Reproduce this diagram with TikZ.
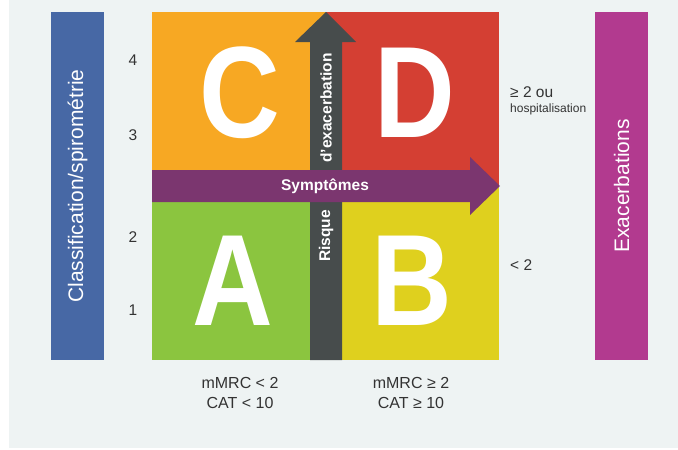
\documentclass[tikz,border=0pt]{standalone}
\usepackage{fontspec}
\setmainfont{Liberation Sans}
\newfontfamily\letterfont{Liberation Sans}[FakeStretch=0.86]
\definecolor{bgc}{HTML}{EEF3F3}
\definecolor{qorange}{HTML}{F7A823}
\definecolor{qred}{HTML}{D43F33}
\definecolor{qgreen}{HTML}{8BC53F}
\definecolor{qyellow}{HTML}{DFD01E}
\definecolor{agray}{HTML}{474C4C}
\definecolor{apurple}{HTML}{7B366F}
\definecolor{bblue}{HTML}{4768A5}
\definecolor{bmag}{HTML}{B23A8F}
\definecolor{txt}{HTML}{333333}
\tikzset{
  bigletter/.style={text=white, font=\letterfont\fontsize{130}{130}\selectfont\bfseries, inner sep=0pt},
  sidetext/.style={text=white, font=\fontsize{21}{21}\selectfont, rotate=90, inner sep=0pt},
  arrowtext/.style={text=white, font=\fontsize{15.5}{16}\selectfont\bfseries, inner sep=0pt},
  lab/.style={text=txt, font=\fontsize{15.5}{17}\selectfont, inner sep=0pt},
  bottomlab/.style={text=txt, font=\fontsize{16}{20}\selectfont, align=center, inner sep=0pt}
}
\begin{document}
\begin{tikzpicture}[x=1pt,y=-1pt]
\useasboundingbox (0,0) rectangle (678,450);
\fill[white] (0,0) rectangle (678,450);
\fill[bgc] (9,0) rectangle (678,448);
% side bars
\fill[bblue] (51,12) rectangle (104,360);
\fill[bmag] (595,12) rectangle (648,360);
\node[sidetext] (cls) at (77.5,186) {Classification/spirométrie};
\node[sidetext] (exa) at (621.5,186) {Exacerbations};
% quadrants
\fill[qorange] (152,12) rectangle (326,186);
\fill[qred] (326,12) rectangle (499,186);
\fill[qgreen] (152,186) rectangle (326,360);
\fill[qyellow] (326,186) rectangle (499,360);
\node[bigletter] (C) at (240,93) {C};
\node[bigletter] (D) at (415,93) {D};
\node[bigletter] (A) at (233,281) {A};
\node[bigletter] (B) at (412,281) {B};
% vertical arrow
\fill[agray] (310,360) -- (310,42) -- (295,42) -- (326,12) -- (356,42) -- (342,42) -- (342,360) -- cycle;
% horizontal arrow
\fill[apurple] (152,170) -- (470,170) -- (470,157) -- (500,186) -- (470,215) -- (470,202) -- (152,202) -- cycle;
\node[arrowtext] (sym) at (325,186) {Symptômes};
\node[arrowtext, rotate=90] (dex) at (326,108) {d'exacerbation};
\node[arrowtext, rotate=90] (ris) at (326,236) {Risque};
% numbers
\node[lab] (n4) at (133,60) {4};
\node[lab] (n3) at (133,135) {3};
\node[lab] (n2) at (133,237) {2};
\node[lab] (n1) at (133,310) {1};
% right labels
\node[lab, anchor=west] (ge2) at (510,92) {≥ 2 ou};
\node[text=txt, font=\fontsize{12}{13}\selectfont, anchor=west, inner sep=0pt] (hosp) at (510,109) {hospitalisation};
\node[lab, anchor=west] (lt2) at (510,265) {< 2};
% bottom labels
\node[bottomlab] (bl) at (240,393) {mMRC < 2\\CAT < 10};
\node[bottomlab] (br) at (411,393) {mMRC ≥ 2\\CAT ≥ 10};
\end{tikzpicture}
\end{document}
